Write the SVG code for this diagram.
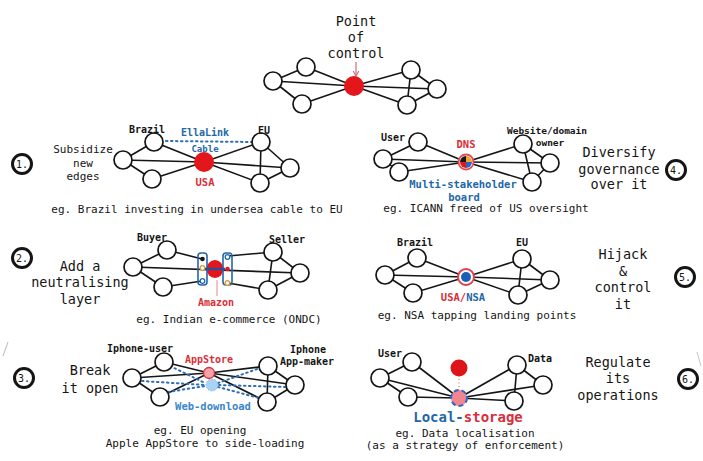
<svg xmlns="http://www.w3.org/2000/svg" width="703" height="461" viewBox="0 0 703 461">
  <style>
    text { font-family: "DejaVu Sans Mono", "Liberation Mono", monospace; text-anchor: middle; fill: #151515; }
    .big { font-size: 13.5px; }
    .mid { font-size: 11px; }
    .cap { font-size: 11px; }
    .lbl { font-size: 10px; font-weight: bold; }
    .red { fill: #d92f3a; font-weight: bold; }
    .blue { fill: #2367a9; font-weight: bold; }
    .edges line { stroke: #151515; stroke-width: 1.6; }
    .node { fill: #fff; stroke: #151515; stroke-width: 1.7; }
    .badge circle { fill: #fff; stroke: #151515; stroke-width: 3; }
    .badge text { font-size: 10px; }
    .edges line.dotted { stroke: #2f6fb5; stroke-width: 2; stroke-dasharray: 1.5 3.5; stroke-linecap: round; }
  </style>
  <defs>
    <marker id="arr" viewBox="0 0 10 10" refX="8" refY="5" markerWidth="6" markerHeight="6" orient="auto">
      <path d="M1,1 L8,5 L1,9" fill="none" stroke="#d06a78" stroke-width="1.5"/>
    </marker>
  </defs>

  <rect width="703" height="461" fill="#fff"/>

  <!-- stray pen strokes at the margins -->
  <line x1="8" y1="342" x2="3" y2="356" stroke="#b8b8b8" stroke-width="1"/>
  <line x1="697" y1="352" x2="701" y2="366" stroke="#c8c8c8" stroke-width="1"/>

  <!-- ===== Top: point of control ===== -->
  <g id="title-top">
    <text class="big" x="356" y="26">Point</text>
    <text class="big" x="356" y="42">of</text>
    <text class="big" x="356" y="58">control</text>
  </g>
  <g class="edges" id="edges-top">
    <line x1="273" y1="81" x2="306" y2="67"/>
    <line x1="273" y1="81" x2="302" y2="104"/>
    <line x1="306" y1="67" x2="354" y2="86"/>
    <line x1="273" y1="81" x2="354" y2="86"/>
    <line x1="302" y1="104" x2="354" y2="86"/>
    <line x1="354" y1="86" x2="411" y2="70"/>
    <line x1="354" y1="86" x2="437" y2="89"/>
    <line x1="354" y1="86" x2="407" y2="105"/>
    <line x1="411" y1="70" x2="437" y2="89"/>
    <line x1="411" y1="70" x2="407" y2="105"/>
    <line x1="407" y1="105" x2="437" y2="89"/>
    <line x1="356" y1="62" x2="356" y2="76" marker-end="url(#arr)" style="stroke:#d06a78;stroke-width:1.2"/>
  </g>
  <g id="top-L"><circle class="node" cx="273" cy="81" r="9"/></g>
  <g id="top-TL"><circle class="node" cx="306" cy="67" r="9"/></g>
  <g id="top-BL"><circle class="node" cx="302" cy="104" r="9"/></g>
  <g id="top-C"><circle cx="354" cy="86" r="10" fill="#e3161c"/></g>
  <g id="top-TR"><circle class="node" cx="411" cy="70" r="9"/></g>
  <g id="top-R"><circle class="node" cx="437" cy="89" r="9"/></g>
  <g id="top-BR"><circle class="node" cx="407" cy="105" r="9"/></g>

  <!-- ===== 1. Subsidize new edges ===== -->
  <g class="badge" id="badge-1"><circle cx="22" cy="164" r="9.5"/><text x="22" y="168">1.</text></g>
  <g id="title-1">
    <text class="mid" x="83" y="153">Subsidize</text>
    <text class="mid" x="83" y="167">new</text>
    <text class="mid" x="83" y="180">edges</text>
  </g>
  <g class="edges" id="edges-1">
    <line x1="123" y1="160" x2="154" y2="142"/>
    <line x1="123" y1="160" x2="152" y2="179"/>
    <line x1="154" y1="142" x2="204" y2="162"/>
    <line x1="123" y1="160" x2="204" y2="162"/>
    <line x1="152" y1="179" x2="204" y2="162"/>
    <line x1="204" y1="162" x2="261" y2="142"/>
    <line x1="204" y1="162" x2="290" y2="168"/>
    <line x1="204" y1="162" x2="260" y2="183"/>
    <line x1="261" y1="142" x2="290" y2="168"/>
    <line x1="261" y1="142" x2="260" y2="183"/>
    <line x1="260" y1="183" x2="290" y2="168"/>
    <line class="dotted" x1="166" y1="141" x2="252" y2="142"/>
  </g>
  <g id="n1-L"><circle class="node" cx="123" cy="160" r="9"/></g>
  <g id="n1-TL"><circle class="node" cx="154" cy="142" r="9"/></g>
  <g id="n1-BL"><circle class="node" cx="152" cy="179" r="9"/></g>
  <g id="n1-C"><circle cx="204" cy="162" r="10" fill="#e3161c"/></g>
  <g id="n1-TR"><circle class="node" cx="261" cy="142" r="9"/></g>
  <g id="n1-R"><circle class="node" cx="290" cy="168" r="9"/></g>
  <g id="n1-BR"><circle class="node" cx="260" cy="183" r="9"/></g>
  <g id="labels-1">
    <text class="lbl" x="147" y="133">Brazil</text>
    <text class="lbl blue" x="205" y="136">EllaLink</text>
    <text class="lbl" x="264" y="134">EU</text>
    <text class="blue" x="205" y="152" style="font-size:9px">Cable</text>
    <text class="lbl red" x="205" y="186" style="font-size:10.5px">USA</text>
    <text class="cap" x="197" y="213">eg. Brazil investing in undersea cable to EU</text>
  </g>

  <!-- ===== 4. Diversify governance ===== -->
  <g class="edges" id="edges-4">
    <line x1="383" y1="159" x2="418" y2="142"/>
    <line x1="383" y1="159" x2="399" y2="172"/>
    <line x1="418" y1="142" x2="466" y2="162"/>
    <line x1="383" y1="159" x2="466" y2="162"/>
    <line x1="399" y1="172" x2="466" y2="162"/>
    <line x1="466" y1="162" x2="523" y2="144"/>
    <line x1="466" y1="162" x2="550" y2="163"/>
    <line x1="466" y1="162" x2="532" y2="182"/>
    <line x1="523" y1="144" x2="550" y2="163"/>
    <line x1="523" y1="144" x2="532" y2="182"/>
    <line x1="532" y1="182" x2="550" y2="163"/>
  </g>
  <g id="n4-L"><circle class="node" cx="383" cy="159" r="9"/></g>
  <g id="n4-TL"><circle class="node" cx="418" cy="142" r="9"/></g>
  <g id="n4-BL"><circle class="node" cx="399" cy="172" r="9"/></g>
  <g id="n4-DNS">
    <circle cx="466" cy="162" r="7.5" fill="#fff" stroke="#e04a52" stroke-width="1.8"/>
    <path d="M466,162 L466,156 A6,6 0 0 0 460,162 Z" fill="#151515"/>
    <path d="M466,162 L460,162 A6,6 0 0 0 466,168 Z" fill="#e3161c"/>
    <path d="M466,162 L466,168 A6,6 0 0 0 472,162 Z" fill="#2a67c2"/>
    <path d="M466,162 L472,162 A6,6 0 0 0 466,156 Z" fill="#f0a330"/>
  </g>
  <g id="n4-TR"><circle class="node" cx="523" cy="144" r="9"/></g>
  <g id="n4-R"><circle class="node" cx="550" cy="163" r="9"/></g>
  <g id="n4-BR"><circle class="node" cx="532" cy="182" r="9"/></g>
  <g id="labels-4">
    <text class="lbl" x="393" y="141">User</text>
    <text class="lbl red" x="466" y="148" style="font-size:10.5px">DNS</text>
    <text class="lbl" x="547" y="134" style="font-size:9.5px">Website/domain</text>
    <text class="lbl" x="550" y="146" style="font-size:9.5px">owner</text>
    <text class="lbl blue" x="463" y="188" style="font-size:10.5px">Multi-stakeholder</text>
    <text class="lbl blue" x="464" y="201" style="font-size:10.5px">board</text>
    <text class="cap" x="486" y="212">eg. ICANN freed of US oversight</text>
  </g>
  <g id="title-4">
    <text class="big" x="619" y="157">Diversify</text>
    <text class="big" x="619" y="174">governance</text>
    <text class="big" x="619" y="189">over it</text>
  </g>
  <g class="badge" id="badge-4"><circle cx="676" cy="170" r="9.5"/><text x="676" y="174">4.</text></g>

  <!-- ===== 2. Add a neutralising layer ===== -->
  <g class="badge" id="badge-2"><circle cx="22" cy="258" r="9.5"/><text x="22" y="262">2.</text></g>
  <g id="title-2">
    <text class="big" x="80" y="271">Add a</text>
    <text class="big" x="80" y="287">neutralising</text>
    <text class="big" x="80" y="304">layer</text>
  </g>
  <g class="edges" id="edges-2">
    <line x1="133" y1="267" x2="167" y2="250"/>
    <line x1="133" y1="267" x2="163" y2="287"/>
    <line x1="167" y1="250" x2="202" y2="259"/>
    <line x1="163" y1="287" x2="202" y2="281"/>
    <line x1="133" y1="267" x2="300" y2="273"/>
    <line x1="228" y1="256" x2="273" y2="252"/>
    <line x1="228" y1="283" x2="268" y2="290"/>
    <line x1="273" y1="252" x2="300" y2="273"/>
    <line x1="273" y1="252" x2="268" y2="290"/>
    <line x1="268" y1="290" x2="300" y2="273"/>
    <line x1="217" y1="280" x2="217" y2="296" style="stroke:#e08890;stroke-width:1"/>
  </g>
  <g id="n2-L"><circle class="node" cx="133" cy="267" r="9"/></g>
  <g id="n2-TL"><circle class="node" cx="167" cy="250" r="9"/></g>
  <g id="n2-BL"><circle class="node" cx="163" cy="287" r="9"/></g>
  <g id="n2-Amazon"><ellipse cx="215" cy="269" rx="8.5" ry="9" fill="#e3161c"/></g>
  <g id="n2-layer-left">
    <rect x="198" y="253" width="9" height="32" rx="3" fill="none" stroke="#2367a9" stroke-width="1.6"/>
    <circle cx="202.5" cy="259" r="2.3" fill="#151515"/>
    <circle cx="202.5" cy="268" r="2.3" fill="#fff" stroke="#e59a2a" stroke-width="1.3"/>
    <circle cx="202.5" cy="281" r="2.3" fill="#fff" stroke="#2367a9" stroke-width="1.3"/>
  </g>
  <g id="n2-layer-right">
    <rect x="223" y="253" width="9" height="32" rx="3" fill="none" stroke="#2367a9" stroke-width="1.6"/>
    <circle cx="227.5" cy="257" r="2.3" fill="#fff" stroke="#2367a9" stroke-width="1.3"/>
    <circle cx="227.5" cy="269" r="2.3" fill="#e3161c"/>
    <circle cx="227.5" cy="283" r="2.3" fill="#fff" stroke="#e59a2a" stroke-width="1.3"/>
  </g>
  <line x1="205" y1="269" x2="225" y2="269" stroke="#2a4f9a" stroke-width="2.4"/>
  <g id="n2-TR"><circle class="node" cx="273" cy="252" r="9"/></g>
  <g id="n2-R"><circle class="node" cx="300" cy="273" r="9"/></g>
  <g id="n2-BR"><circle class="node" cx="268" cy="290" r="9"/></g>
  <g id="labels-2">
    <text class="lbl" x="152" y="241">Buyer</text>
    <text class="lbl" x="287" y="243">Seller</text>
    <text class="lbl red" x="216" y="306">Amazon</text>
    <text class="cap" x="229" y="323">eg. Indian e-commerce (ONDC)</text>
  </g>

  <!-- ===== 5. Hijack & control it ===== -->
  <g class="edges" id="edges-5">
    <line x1="385" y1="275" x2="417" y2="258"/>
    <line x1="385" y1="275" x2="413" y2="293"/>
    <line x1="417" y1="258" x2="466" y2="277"/>
    <line x1="385" y1="275" x2="466" y2="277"/>
    <line x1="413" y1="293" x2="466" y2="277"/>
    <line x1="466" y1="277" x2="522" y2="259"/>
    <line x1="466" y1="277" x2="550" y2="280"/>
    <line x1="466" y1="277" x2="518" y2="295"/>
    <line x1="522" y1="259" x2="550" y2="280"/>
    <line x1="522" y1="259" x2="518" y2="295"/>
    <line x1="518" y1="295" x2="550" y2="280"/>
  </g>
  <g id="n5-L"><circle class="node" cx="385" cy="275" r="9"/></g>
  <g id="n5-TL"><circle class="node" cx="417" cy="258" r="9"/></g>
  <g id="n5-BL"><circle class="node" cx="413" cy="293" r="9"/></g>
  <g id="n5-C">
    <circle cx="466" cy="277" r="8" fill="#fff" stroke="#e0404c" stroke-width="2"/>
    <circle cx="466" cy="277" r="5" fill="#1b5fb5"/>
  </g>
  <g id="n5-TR"><circle class="node" cx="522" cy="259" r="9"/></g>
  <g id="n5-R"><circle class="node" cx="550" cy="280" r="9"/></g>
  <g id="n5-BR"><circle class="node" cx="518" cy="295" r="9"/></g>
  <g id="labels-5">
    <text class="lbl" x="415" y="246">Brazil</text>
    <text class="lbl" x="522" y="246">EU</text>
    <text class="lbl" x="463" y="301" style="font-size:10.5px"><tspan class="red">USA/</tspan><tspan class="blue">NSA</tspan></text>
    <text class="cap" x="477" y="319">eg. NSA tapping landing points</text>
  </g>
  <g id="title-5">
    <text class="big" x="623" y="259">Hijack</text>
    <text class="big" x="623" y="276">&amp;</text>
    <text class="big" x="623" y="292">control</text>
    <text class="big" x="623" y="309">it</text>
  </g>
  <g class="badge" id="badge-5"><circle cx="685" cy="277" r="9.5"/><text x="685" y="281">5.</text></g>

  <!-- ===== 3. Break it open ===== -->
  <g class="badge" id="badge-3"><circle cx="24" cy="378" r="9.5"/><text x="24" y="382">3.</text></g>
  <g id="title-3">
    <text class="big" x="90" y="375">Break</text>
    <text class="big" x="90" y="393">it open</text>
  </g>
  <g class="edges" id="edges-3">
    <line x1="132" y1="378" x2="164" y2="362"/>
    <line x1="132" y1="378" x2="160" y2="397"/>
    <line x1="164" y1="362" x2="209" y2="373"/>
    <line x1="132" y1="378" x2="209" y2="373"/>
    <line x1="160" y1="397" x2="209" y2="373"/>
    <line x1="209" y1="373" x2="268" y2="366"/>
    <line x1="209" y1="373" x2="295" y2="385"/>
    <line x1="209" y1="373" x2="267" y2="402"/>
    <line x1="268" y1="366" x2="295" y2="385"/>
    <line x1="268" y1="366" x2="267" y2="402"/>
    <line x1="267" y1="402" x2="295" y2="385"/>
    <line class="dotted" x1="170" y1="366" x2="205" y2="383"/>
    <line class="dotted" x1="142" y1="381" x2="205" y2="385"/>
    <line class="dotted" x1="168" y1="392" x2="205" y2="386"/>
    <line class="dotted" x1="218" y1="383" x2="260" y2="368"/>
    <line class="dotted" x1="219" y1="385" x2="286" y2="387"/>
    <line class="dotted" x1="218" y1="387" x2="259" y2="398"/>
  </g>
  <g id="n3-L"><circle class="node" cx="132" cy="378" r="9"/></g>
  <g id="n3-TL"><circle class="node" cx="164" cy="362" r="9"/></g>
  <g id="n3-BL"><circle class="node" cx="160" cy="397" r="9"/></g>
  <g id="n3-Web"><circle cx="212" cy="385" r="6" fill="#a9d3f4" stroke="#7db8ea" stroke-width="1" stroke-dasharray="1.5 1.5"/></g>
  <g id="n3-AppStore"><circle cx="209" cy="373" r="5.5" fill="#f5a3aa" stroke="#d6333d" stroke-width="1.3"/></g>
  <g id="n3-TR"><circle class="node" cx="268" cy="366" r="9"/></g>
  <g id="n3-R"><circle class="node" cx="295" cy="385" r="9"/></g>
  <g id="n3-BR"><circle class="node" cx="267" cy="402" r="9"/></g>
  <g id="labels-3">
    <text class="lbl" x="140" y="352">Iphone-user</text>
    <text class="lbl red" x="209" y="363">AppStore</text>
    <text class="lbl" x="308" y="353">Iphone</text>
    <text class="lbl" x="307" y="365">App-maker</text>
    <text class="lbl blue" x="213" y="410" style="font-size:10.5px;fill:#3a86cc">Web-download</text>
    <text class="cap" x="200" y="434">eg. EU opening</text>
    <text class="cap" x="205" y="447">Apple AppStore to side-loading</text>
  </g>

  <!-- ===== 6. Regulate its operations ===== -->
  <g class="edges" id="edges-6">
    <line x1="380" y1="378" x2="412" y2="362"/>
    <line x1="380" y1="378" x2="408" y2="397"/>
    <line x1="412" y1="362" x2="459" y2="398"/>
    <line x1="380" y1="378" x2="459" y2="398"/>
    <line x1="408" y1="397" x2="459" y2="398"/>
    <line x1="459" y1="398" x2="517" y2="365"/>
    <line x1="459" y1="398" x2="543" y2="385"/>
    <line x1="459" y1="398" x2="514" y2="401"/>
    <line x1="517" y1="365" x2="543" y2="385"/>
    <line x1="517" y1="365" x2="514" y2="401"/>
    <line x1="459" y1="379" x2="459" y2="391" style="stroke:#e07080;stroke-width:1.2;stroke-dasharray:1 2.5"/>
  </g>
  <g id="n6-L"><circle class="node" cx="380" cy="378" r="9"/></g>
  <g id="n6-TL"><circle class="node" cx="412" cy="362" r="9"/></g>
  <g id="n6-BL"><circle class="node" cx="408" cy="397" r="9"/></g>
  <g id="n6-remote"><circle cx="459" cy="368" r="8.5" fill="#dd1418"/></g>
  <g id="n6-local"><circle cx="459" cy="398" r="8" fill="#f2858f" stroke="#2a68bd" stroke-width="2" stroke-dasharray="5 3"/></g>
  <g id="n6-TR"><circle class="node" cx="517" cy="365" r="9"/></g>
  <g id="n6-R"><circle class="node" cx="543" cy="385" r="9"/></g>
  <g id="n6-BR"><circle class="node" cx="514" cy="401" r="9"/></g>
  <g id="labels-6">
    <text class="lbl" x="390" y="357">User</text>
    <text class="lbl" x="540" y="362">Data</text>
    <text x="468" y="422" style="font-size:14px;font-weight:bold"><tspan fill="#2367a9">Local-</tspan><tspan fill="#d92f3a">storage</tspan></text>
    <text class="cap" x="465" y="437">eg. Data localisation</text>
    <text class="cap" x="465" y="449">(as a strategy of enforcement)</text>
  </g>
  <g id="title-6">
    <text class="big" x="618" y="367">Regulate</text>
    <text class="big" x="618" y="383">its</text>
    <text class="big" x="618" y="400">operations</text>
  </g>
  <g class="badge" id="badge-6"><circle cx="688" cy="379" r="9.5"/><text x="688" y="383">6.</text></g>
</svg>
